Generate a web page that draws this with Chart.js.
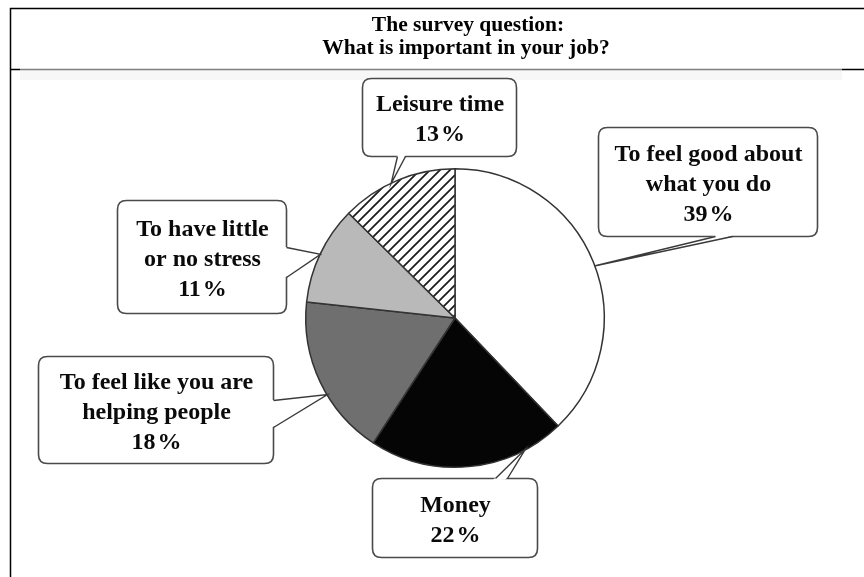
<!DOCTYPE html>
<html>
<head>
<meta charset="utf-8">
<script src="https://cdn.jsdelivr.net/npm/chart.js@4"></script>
<style>
  html, body { margin: 0; padding: 0; background: #ffffff; }
  #wrap { width: 864px; height: 577px; position: relative; }
</style>
</head>
<body>
<div id="wrap"><canvas id="c" width="864" height="577"></canvas></div>
<script>
// ---- data ----
const titleLines = ['The survey question:', 'What is important in your job?'];
const categories = [
  'To feel good about what you do',
  'Money',
  'To feel like you are helping people',
  'To have little or no stress',
  'Leisure time'
];
const labelLines = [
  ['To feel good about', 'what you do'],
  ['Money'],
  ['To feel like you are', 'helping people'],
  ['To have little', 'or no stress'],
  ['Leisure time']
];
const percentages = [39, 22, 18, 11, 13];

// ---- styles ----
function hatchPattern() {
  const s = 10;
  const pc = document.createElement('canvas');
  pc.width = s; pc.height = s;
  const p = pc.getContext('2d');
  p.fillStyle = '#ffffff';
  p.fillRect(0, 0, s, s);
  p.strokeStyle = '#1a1a1a';
  p.lineWidth = 1.7;
  p.beginPath();
  p.moveTo(-2, s + 2); p.lineTo(s + 2, -2);
  p.moveTo(-2, 2); p.lineTo(2, -2);
  p.moveTo(s - 2, s + 2); p.lineTo(s + 2, s - 2);
  p.stroke();
  return document.getElementById('c').getContext('2d').createPattern(pc, 'repeat');
}
const sliceColors = ['#ffffff', '#050505', '#6f6f6f', '#b9b9b9', hatchPattern()];

// callout boxes (layout only): box rect, tail base points, tip position as fraction of slice arc
const callouts = [
  { box: [598, 127, 817, 236], base: [[715, 236], [732, 236]], frac: 0.51 },
  { box: [372, 478, 537, 557], base: [[495, 478], [507, 478]], frac: 0.2 },
  { box: [38, 356, 273, 463], base: [[273, 400], [273, 427]], frac: 0.41 },
  { box: [117, 200, 286, 313], base: [[286, 247], [286, 277]], frac: 0.5 },
  { box: [362, 78, 516, 156], base: [[397, 156], [405, 156]], frac: 0.44 }
];

function roundRectPath(ctx, x1, y1, x2, y2, r) {
  ctx.beginPath();
  ctx.moveTo(x1 + r, y1);
  ctx.lineTo(x2 - r, y1);
  ctx.quadraticCurveTo(x2, y1, x2, y1 + r);
  ctx.lineTo(x2, y2 - r);
  ctx.quadraticCurveTo(x2, y2, x2 - r, y2);
  ctx.lineTo(x1 + r, y2);
  ctx.quadraticCurveTo(x1, y2, x1, y2 - r);
  ctx.lineTo(x1, y1 + r);
  ctx.quadraticCurveTo(x1, y1, x1 + r, y1);
  ctx.closePath();
}

const framePlugin = {
  id: 'frame',
  beforeDraw(chart) {
    const ctx = chart.ctx;
    ctx.save();
    ctx.fillStyle = '#ffffff';
    ctx.fillRect(0, 0, chart.width, chart.height);
    ctx.fillStyle = '#f7f7f7';
    ctx.fillRect(20, 70, 822, 10);
    ctx.strokeStyle = '#000000';
    ctx.lineWidth = 1.5;
    ctx.beginPath();
    ctx.moveTo(10, 8.5); ctx.lineTo(864, 8.5);
    ctx.moveTo(10.5, 8); ctx.lineTo(10.5, 577);
    ctx.moveTo(10, 69.5); ctx.lineTo(20, 69.5);
    ctx.moveTo(842, 69.5); ctx.lineTo(864, 69.5);
    ctx.stroke();
    ctx.strokeStyle = '#808080';
    ctx.beginPath();
    ctx.moveTo(20, 69.5); ctx.lineTo(842, 69.5);
    ctx.stroke();
    // title
    ctx.fillStyle = '#000000';
    ctx.font = 'bold 21.5px "Liberation Serif", "Times New Roman", serif';
    ctx.textAlign = 'center';
    ctx.textBaseline = 'alphabetic';
    ctx.fillText(titleLines[0], 468, 31);
    ctx.fillText(titleLines[1], 466, 54);
    ctx.restore();
  }
};

const calloutPlugin = {
  id: 'callouts',
  afterDraw(chart) {
    const ctx = chart.ctx;
    const meta = chart.getDatasetMeta(0);
    ctx.save();
    callouts.forEach((c, i) => {
      const arc = meta.data[i];
      const p = arc.getProps(['x', 'y', 'startAngle', 'endAngle', 'outerRadius'], true);
      const a = p.startAngle + (p.endAngle - p.startAngle) * c.frac;
      const r = p.outerRadius - 0.5;
      const tip = [p.x + Math.cos(a) * r, p.y + Math.sin(a) * r];
      const [x1, y1, x2, y2] = c.box;
      // box
      roundRectPath(ctx, x1 + 0.5, y1 + 0.5, x2 + 0.5, y2 + 0.5, 9);
      ctx.fillStyle = '#ffffff';
      ctx.fill();
      ctx.strokeStyle = '#4a4a4a';
      ctx.lineWidth = 1.6;
      ctx.stroke();
      // tail
      const [b1, b2] = c.base;
      const cx = (x1 + x2) / 2, cy = (y1 + y2) / 2;
      const inset = (pt) => {
        const dx = cx - pt[0], dy = cy - pt[1];
        const L = Math.hypot(dx, dy);
        return [pt[0] + dx / L * 3, pt[1] + dy / L * 3];
      };
      const i1 = inset(b1), i2 = inset(b2);
      ctx.beginPath();
      ctx.moveTo(i1[0], i1[1]);
      ctx.lineTo(b1[0], b1[1]);
      ctx.lineTo(tip[0], tip[1]);
      ctx.lineTo(b2[0], b2[1]);
      ctx.lineTo(i2[0], i2[1]);
      ctx.closePath();
      ctx.fillStyle = '#ffffff';
      ctx.fill();
      ctx.beginPath();
      ctx.moveTo(b1[0] + 0.5, b1[1] + 0.5);
      ctx.lineTo(tip[0], tip[1]);
      ctx.lineTo(b2[0] + 0.5, b2[1] + 0.5);
      ctx.strokeStyle = '#3a3a3a';
      ctx.lineWidth = 1.4;
      ctx.stroke();
      // text
      const lines = labelLines[i].concat([percentages[i] + '\u200A%']);
      ctx.fillStyle = '#0a0a0a';
      ctx.font = 'bold 24px "Liberation Serif", "Times New Roman", serif';
      ctx.textAlign = 'center';
      ctx.textBaseline = 'alphabetic';
      const n = lines.length;
      lines.forEach((t, k) => {
        ctx.fillText(t, cx + 1, cy + (k - (n - 1) / 2) * 30 + 9);
      });
    });
    ctx.restore();
  }
};

new Chart(document.getElementById('c'), {
  type: 'pie',
  data: {
    labels: categories,
    datasets: [{
      data: percentages,
      backgroundColor: sliceColors,
      borderColor: '#333333',
      borderWidth: 1.5
    }]
  },
  options: {
    responsive: false,
    animation: false,
    events: [],
    layout: { padding: { left: 305, right: 259, top: 168, bottom: 109 } },
    plugins: {
      legend: { display: false },
      tooltip: { enabled: false },
      title: { display: false }
    }
  },
  plugins: [framePlugin, calloutPlugin]
});
</script>
</body>
</html>
